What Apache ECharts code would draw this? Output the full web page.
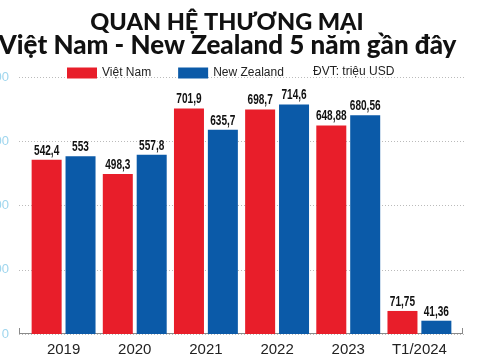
<!DOCTYPE html>
<html><head><meta charset="utf-8">
<script src="https://cdn.jsdelivr.net/npm/echarts@6/dist/echarts.min.js"></script>
<style>html,body{margin:0;padding:0;background:#fff}#c{width:480px;height:360px}</style>
</head><body><div id="c"></div>
<script>
const categories = ['2019', '2020', '2021', '2022', '2023', 'T1/2024'];
const vietNam = [542.4, 498.3, 701.9, 698.7, 648.88, 71.75];
const newZealand = [553, 557.8, 635.7, 714.6, 680.56, 41.36];
const yTicks = [0, 200, 400, 600, 800];
const seriesNames = ['Việt Nam', 'New Zealand'];
const titleLines = ['QUAN HỆ THƯƠNG MẠI', 'Việt Nam - New Zealand 5 năm gần đây'];

const chart = echarts.init(document.getElementById('c'), null, {renderer: 'canvas'});
const fmt = v => String(v).replace('.', ',');
const BAR_W = 30, BAR_GAP = '13%';
function labelSeries(values, k) {
  return {
    type: 'custom', xAxisIndex: 1, yAxisIndex: 1, z: 5, silent: true,
    data: values.map((v, i) => [i, v]),
    encode: {x: 0, y: 1},
    renderItem: (params, api) => {
      const layout = api.barLayout({barWidth: BAR_W, barGap: BAR_GAP, count: 2});
      const v = api.value(1);
      const pt = api.coord([api.value(0), v]);
      return {
        type: 'text', x: pt[0] + layout[k].offsetCenter, y: pt[1] - 2, scaleX: 0.72,
        style: {text: fmt(v), font: 'bold 14px "Liberation Sans", Arial, sans-serif', fill: '#111',
                textAlign: 'center', textVerticalAlign: 'bottom'}
      };
    }
  };
}
chart.setOption({
  animation: false,
  backgroundColor: '#fff',
  legend: {
    left: 67, top: 67, padding: 0, itemWidth: 30, itemHeight: 11, itemGap: 27,
    icon: 'rect',
    textStyle: {fontFamily: '"Liberation Sans", Arial, sans-serif', fontSize: 12, color: '#222', padding: [0,0,0,0]},
    data: seriesNames
  },
  graphic: [
    {type: 'text', x: 227, y: 10, style: {text: titleLines[0], font: '900 23.5px Lato, Roboto, sans-serif', fill: '#111', textAlign: 'center', textVerticalAlign: 'top'}},
    {type: 'text', x: 227.5, y: 33, style: {text: titleLines[1], font: '900 26px Lato, Roboto, sans-serif', fill: '#111', textAlign: 'center', textVerticalAlign: 'top'}},
    {type: 'text', left: 313, top: 66, style: {text: 'ĐVT: triệu USD', font: '12px "Liberation Sans", Arial, sans-serif', fill: '#222'}},
    {type: 'line', shape: {x1: 19, y1: 333.5, x2: 463, y2: 333.5}, style: {stroke: '#8a8a8a', lineWidth: 1}},
    {type: 'line', shape: {x1: 19.5, y1: 328, x2: 19.5, y2: 334}, style: {stroke: '#8a8a8a', lineWidth: 1}},
    {type: 'line', shape: {x1: 462.5, y1: 328, x2: 462.5, y2: 334}, style: {stroke: '#8a8a8a', lineWidth: 1}}
  ],
  grid: [
    {left: 19, right: 15, top: 77, bottom: 26, outerBoundsMode: 'none', containLabel: false},
    {left: 28, right: 25, top: 77, bottom: 26, outerBoundsMode: 'none', containLabel: false}
  ],
  xAxis: [
    {type: 'category', gridIndex: 0, data: categories, show: false},
    {type: 'category', gridIndex: 1, data: categories,
     axisLine: {show: false}, axisTick: {show: false},
     axisLabel: {interval: 0, margin: 8, fontFamily: '"Liberation Sans", Arial, sans-serif', fontSize: 15, color: '#222'}}
  ],
  yAxis: [
    {type: 'value', gridIndex: 0, min: 0, max: 800, interval: 200,
     axisLine: {show: false}, axisTick: {show: false},
     axisLabel: {margin: 10, fontFamily: '"Liberation Sans", Arial, sans-serif', fontSize: 13, color: '#9fd6ee',
       formatter: v => yTicks.includes(v) ? String(v) : ''},
     splitLine: {show: true, lineStyle: {type: [1, 2], color: '#bbbbbb', width: 1}}},
    {type: 'value', gridIndex: 1, min: 0, max: 800, interval: 200, show: false, splitLine: {show: false}}
  ],
  series: [
    {name: seriesNames[0], type: 'bar', xAxisIndex: 1, yAxisIndex: 1, data: vietNam,
     barWidth: BAR_W, barGap: BAR_GAP, itemStyle: {color: '#e81e2a'}},
    {name: seriesNames[1], type: 'bar', xAxisIndex: 1, yAxisIndex: 1, data: newZealand,
     barWidth: BAR_W, itemStyle: {color: '#0b5aa8'}},
    labelSeries(vietNam, 0),
    labelSeries(newZealand, 1)
  ]
});
</script></body></html>
